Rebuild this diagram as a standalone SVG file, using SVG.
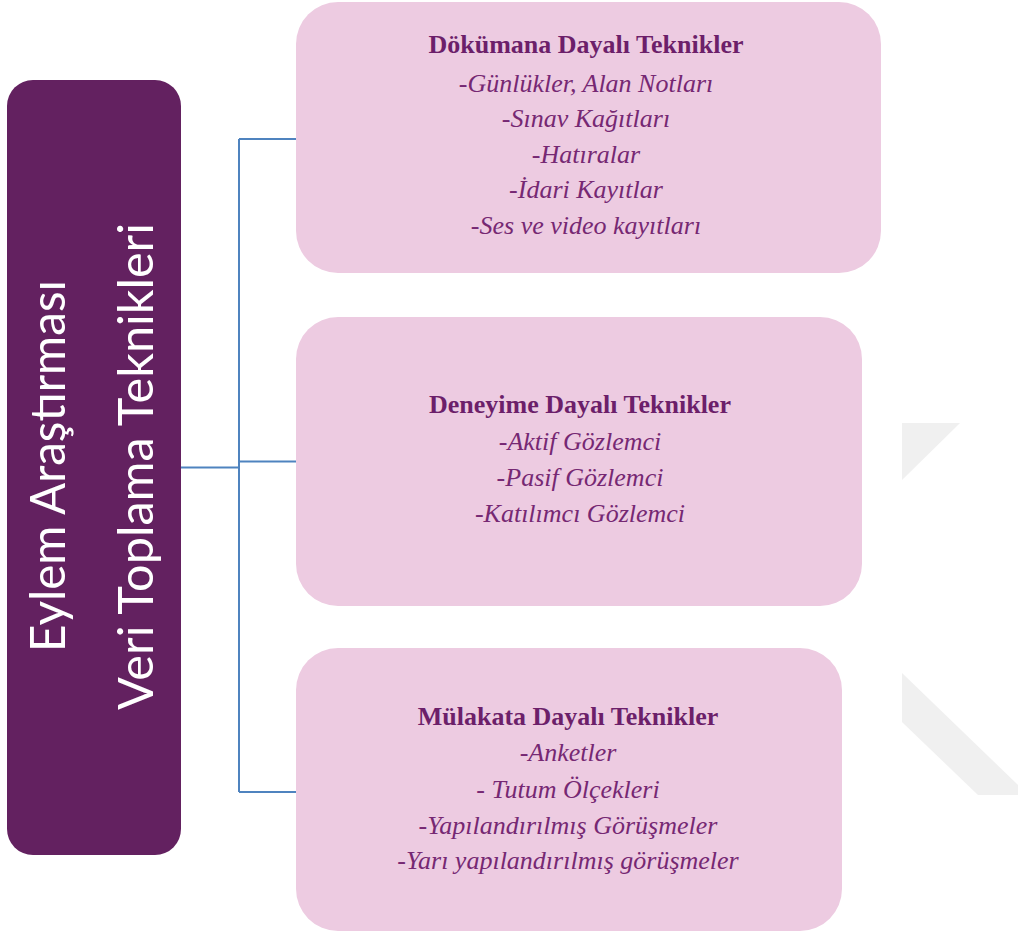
<svg xmlns="http://www.w3.org/2000/svg" width="1018" height="934" viewBox="0 0 1018 934">
<style>
.bg{fill:#ffffff}
.wm{fill:#f0f0f0}
.root{fill:#632160}
.box{fill:#edcbe1}
.rt{font-family:Lato,"Open Sans","Liberation Sans",sans-serif;font-size:49px;font-weight:400;fill:#ffffff;text-anchor:middle}
.tt{font-family:"Liberation Serif","Times New Roman",serif;font-size:26px;font-weight:bold;fill:#6c1f6a;text-anchor:middle}
.it{font-family:"Liberation Serif","Times New Roman",serif;font-size:26px;font-style:italic;fill:#762873;text-anchor:middle}
.con{fill:none;stroke:#4f83bf;stroke-width:2}
</style>
<rect class="bg" x="0" y="0" width="1018" height="934"/>
<g id="watermark">
<polygon class="wm" points="902,423 960,423 902,480"/>
<polygon class="wm" points="902,673 1018,785 1018,795 978,795 902,722"/>
</g>
<g id="connectors">
<path class="con" d="M181,467.5 H239 M239,139 V792 M239,139 H296 M239,461.5 H296 M239,792 H296"/>
</g>
<g id="root">
<rect class="root" x="7" y="80" width="174" height="775" rx="26" ry="26"/>
<text class="rt" transform="translate(65,466) rotate(-90)" textLength="372" lengthAdjust="spacingAndGlyphs">Eylem Araştırması</text>
<text class="rt" transform="translate(153,466.5) rotate(-90)" textLength="487" lengthAdjust="spacingAndGlyphs">Veri Toplama Teknikleri</text>
</g>
<g id="doc">
<rect class="box" x="296" y="2" width="585" height="271" rx="42" ry="42"/>
<text class="tt" x="586" y="53">Dökümana Dayalı Teknikler</text>
<text class="it" x="586" y="91.5">-Günlükler, Alan Notları</text>
<text class="it" x="586" y="127">-Sınav Kağıtları</text>
<text class="it" x="586" y="162.5">-Hatıralar</text>
<text class="it" x="586" y="198">-İdari Kayıtlar</text>
<text class="it" x="586" y="233.5">-Ses ve video kayıtları</text>
</g>
<g id="exp">
<rect class="box" x="296" y="317" width="566" height="289" rx="42" ry="42"/>
<text class="tt" x="580" y="413">Deneyime Dayalı Teknikler</text>
<text class="it" x="580" y="450">-Aktif Gözlemci</text>
<text class="it" x="580" y="486">-Pasif Gözlemci</text>
<text class="it" x="580" y="522">-Katılımcı Gözlemci</text>
</g>
<g id="int">
<rect class="box" x="296" y="648" width="546" height="283" rx="42" ry="42"/>
<text class="tt" x="568" y="725">Mülakata Dayalı Teknikler</text>
<text class="it" x="568" y="761">-Anketler</text>
<text class="it" x="568" y="798">- Tutum Ölçekleri</text>
<text class="it" x="568" y="834">-Yapılandırılmış Görüşmeler</text>
<text class="it" x="568" y="869">-Yarı yapılandırılmış görüşmeler</text>
</g>
</svg>
